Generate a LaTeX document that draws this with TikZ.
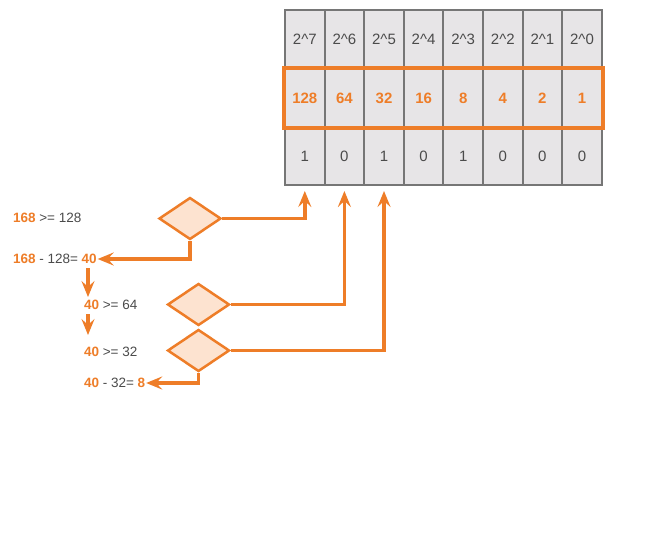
\documentclass[tikz,border=0pt]{standalone}
\usepackage{fontspec}
\setmainfont{Liberation Sans}
\usetikzlibrary{arrows.meta,shapes.geometric}
\definecolor{org}{RGB}{238,125,40}
\definecolor{cellfill}{RGB}{231,229,231}
\definecolor{cellline}{RGB}{118,118,118}
\definecolor{txt}{RGB}{75,75,75}
\definecolor{dfill}{RGB}{253,227,208}
\begin{document}
\begin{tikzpicture}[x=1pt,y=-1pt,
  cell/.style={draw=cellline, fill=cellfill, line width=2pt, minimum width=39.6pt, inner sep=0pt, text=txt, font=\fontsize{15}{18}\selectfont},
  hirow/.style={text=org, font=\fontsize{15}{18}\selectfont\bfseries},
  dia/.style={shape=diamond, draw=org, fill=dfill, line width=2.5pt, aspect=1.47, minimum width=62pt, minimum height=42pt, inner sep=0pt},
  lbl/.style={anchor=west, inner sep=0pt, outer sep=1pt, text=txt, font=\fontsize{13.5}{16}\selectfont},
  arr/.style={draw=org, line width=3.8pt, -{Stealth[length=16pt,width=13pt,inset=6pt]}},
  hl/.style={draw=org, line width=3.6pt},
  hv/.style={text=org, font=\bfseries}
]
\useasboundingbox (0,0) rectangle (653,556);
\fill[white] (0,0) rectangle (653,556);
\foreach \i/\e/\v/\b in {1/7/128/1, 2/6/64/0, 3/5/32/1, 4/4/16/0, 5/3/8/1, 6/2/4/0, 7/1/2/0, 8/0/1/0} {
  \node[cell, minimum height=59pt] (p\i) at ({285+39.6*(\i-0.5)}, 39.5) {2\textasciicircum\e};
  \node[cell, minimum height=58pt, hirow] (v\i) at ({285+39.6*(\i-0.5)}, 98) {\v};
  \node[cell, minimum height=58pt] (b\i) at ({285+39.6*(\i-0.5)}, 156) {\b};
}
\draw[hl] (v1.north west) rectangle (v8.south east);

\node[dia] (d1) at (190,218.5) {};
\node[dia] (d2) at (198.5,304.5) {};
\node[dia] (d3) at (198.5,350.5) {};

\node[lbl] (t1) at (12,218) {\textcolor{org}{\textbf{168}} >= 128};
\node[lbl] (t2) at (12,259) {\textcolor{org}{\textbf{168}} - 128= \textcolor{org}{\textbf{40}}};
\node[lbl] (t3) at (83,305) {\textcolor{org}{\textbf{40}} >= 64};
\node[lbl] (t4) at (83,352) {\textcolor{org}{\textbf{40}} >= 32};
\node[lbl] (t5) at (83,383) {\textcolor{org}{\textbf{40}} - 32= \textcolor{org}{\textbf{8}}};

\draw[arr, shorten >=5pt] (d1.east) -| (b1.south);
\draw[arr, shorten >=5pt] (d2.east) -| (b2.south);
\draw[arr, shorten >=5pt] (d3.east) -| (b3.south);
\draw[arr] (d1.south) |- (t2.east);
\draw[arr] (d3.south) |- (t5.east);

\coordinate (a1) at (88,268);
\coordinate (a2) at (88,297);
\coordinate (a3) at (88,314);
\coordinate (a4) at (88,335);
\draw[arr] (a1) -- (a2);
\draw[arr] (a3) -- (a4);
\end{tikzpicture}
\end{document}
